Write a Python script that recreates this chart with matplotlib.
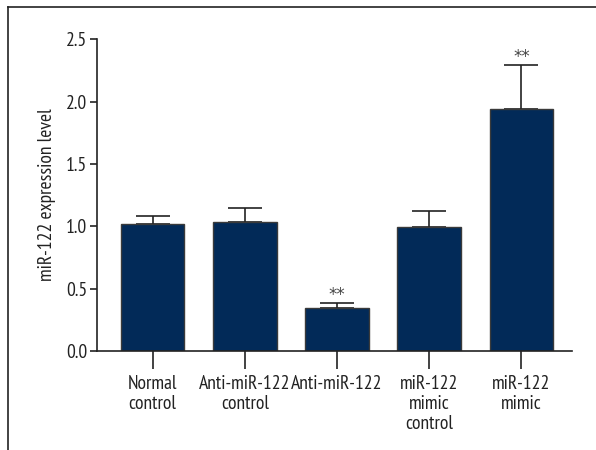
import matplotlib
matplotlib.use("Agg")
import matplotlib.pyplot as plt
from matplotlib.lines import Line2D

plt.rcParams['font.family'] = ['PT Sans Narrow', 'DejaVu Sans']

categories = ["Normal\ncontrol", "Anti-miR-122\ncontrol", "Anti-miR-122",
              "miR-122\nmimic\ncontrol", "miR-122\nmimic"]
means = [1.015, 1.036, 0.342, 0.991, 1.939]
errors = [0.069, 0.107, 0.040, 0.131, 0.350]
significance = ["", "", "**", "", "**"]
yticks = [0.0, 0.5, 1.0, 1.5, 2.0, 2.5]

fig = plt.figure(figsize=(5.96, 4.5), dpi=100)
ax = fig.add_axes([0.163, 0.22, 0.797, 0.693])

x = list(range(len(categories)))
ax.bar(x, means, width=0.69, color="#022a58", edgecolor="#3a3a3a", linewidth=1.0, zorder=2)
ax.errorbar(x, means, yerr=[[0] * len(errors), errors], fmt="none", ecolor="#222222",
            elinewidth=1.2, capsize=12.5, capthick=1.2, zorder=1)

for xi, m, e, s in zip(x, means, errors, significance):
    if s:
        ax.text(xi, m + e - 0.005, s, ha="center", va="bottom", fontsize=12,
                color="#444444", family=["DejaVu Sans"])

ax.set_xlim(-0.602, 4.55)
ax.set_ylim(0, 2.5)
ax.set_yticks(yticks)
ax.set_yticklabels([f"{v:.1f}" for v in yticks])
ax.set_xticks(x)
ax.set_xticklabels(categories, linespacing=1.15)

for side in ("top", "right"):
    ax.spines[side].set_visible(False)
for side in ("left", "bottom"):
    ax.spines[side].set_linewidth(1.2)
    ax.spines[side].set_color("#222222")

ax.tick_params(axis="y", length=5, width=1.2, labelsize=14, pad=2, colors="#222222")
ax.tick_params(axis="x", length=13, width=1.2, labelsize=14, pad=4, colors="#222222")
ax.set_ylabel("miR-122 expression level", fontsize=14, labelpad=7, color="#222222")

# Frame lines along the top and left of the figure
fig.add_artist(Line2D([8 / 596, 1.0], [1 - 7 / 450, 1 - 7 / 450], transform=fig.transFigure,
                      color="#222222", linewidth=1.2))
fig.add_artist(Line2D([8 / 596, 8 / 596], [0.0, 1 - 7 / 450], transform=fig.transFigure,
                      color="#222222", linewidth=1.2))

fig.savefig("out.png", dpi=100)
